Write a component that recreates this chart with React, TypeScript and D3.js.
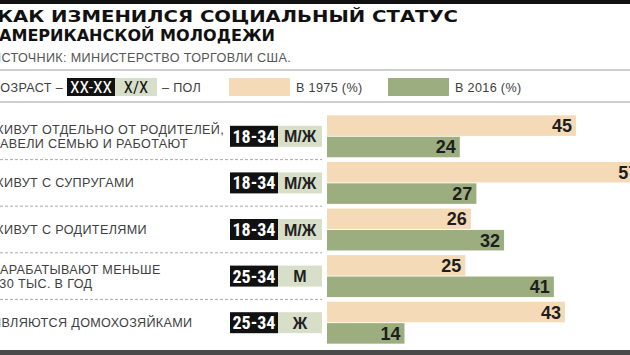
import React from "react";
import * as d3 from "d3";

const categories = [
  ["ЖИВУТ ОТДЕЛЬНО ОТ РОДИТЕЛЕЙ,", "ЗАВЕЛИ СЕМЬЮ И РАБОТАЮТ"],
  ["ЖИВУТ С СУПРУГАМИ"],
  ["ЖИВУТ С РОДИТЕЛЯМИ"],
  ["ЗАРАБАТЫВАЮТ МЕНЬШЕ", "$30 ТЫС. В ГОД"],
  ["ЯВЛЯЮТСЯ ДОМОХОЗЯЙКАМИ"],
];
const ages = ["18-34", "18-34", "18-34", "25-34", "25-34"];
const sexes = ["М/Ж", "М/Ж", "М/Ж", "М", "Ж"];
const values1975 = [45, 57, 26, 25, 43];
const values2016 = [24, 27, 32, 41, 14];
const seriesNames = ["В 1975 (%)", "В 2016 (%)"];

const W = 630;
const H = 355;
const BEIGE = "#f4dab7";
const GREEN = "#9cae7f";
const SAGE = "#d8dfc9";
const TEXT = "#404040";
const SANS = "'Liberation Sans', Arial, sans-serif";
const NARROW = "'Liberation Sans Narrow', 'Roboto Condensed', 'Liberation Sans', sans-serif";
const LBL = 12.6;
const LS = 0.35;

export default function App() {
  const idx = categories.map((_, i) => String(i));
  const y = d3.scaleBand().domain(idx).range([113, 346]).paddingInner(0.1).paddingOuter(0.05);
  const ySub = d3.scaleBand().domain(["1975", "2016"]).range([0, y.bandwidth()]).paddingInner(0.04);
  const x = d3.scaleLinear().domain([0, 45]).range([327, 576]);
  const series = [
    { key: "1975", values: values1975, color: BEIGE },
    { key: "2016", values: values2016, color: GREEN },
  ];
  const step = y.step();

  return (
    <svg width={W} height={H} style={{ position: "absolute", left: 0, top: 0, background: "#fff" }}>
      <rect x={0} y={0} width={W} height={4} fill="#111" />
      <text x={-3} y={22} fontFamily="'DejaVu Sans', sans-serif" fontWeight={700} fontSize={15.5} fill="#111" textLength={461} lengthAdjust="spacingAndGlyphs">
        КАК ИЗМЕНИЛСЯ СОЦИАЛЬНЫЙ СТАТУС
      </text>
      <text x={-1} y={41} fontFamily="'DejaVu Sans', sans-serif" fontWeight={700} fontSize={15.5} fill="#111" textLength={276} lengthAdjust="spacingAndGlyphs">
        АМЕРИКАНСКОЙ МОЛОДЕЖИ
      </text>
      <text x={-8} y={62} fontFamily={SANS} fontSize={LBL} letterSpacing={LS} fill="#555">
        ИСТОЧНИК: МИНИСТЕРСТВО ТОРГОВЛИ США.
      </text>
      <rect x={0} y={69} width={W} height={2} fill="#cfcfcf" />

      {/* legend */}
      <text x={-8} y={92} fontFamily={SANS} fontSize={LBL} letterSpacing={LS} fill={TEXT}>ВОЗРАСТ –</text>
      <rect x={67} y={78} width={48} height={18} fill="#111" />
      <text x={91} y={93} textAnchor="middle" fontFamily={NARROW} fontSize={16.5} fill="#fff" textLength={42} lengthAdjust="spacingAndGlyphs">XX-XX</text>
      <rect x={115} y={78} width={42} height={18} fill={SAGE} />
      <text x={136} y={93} textAnchor="middle" fontFamily={NARROW} fontSize={16.5} fill="#111">X/X</text>
      <text x={162} y={92} fontFamily={SANS} fontSize={LBL} letterSpacing={LS} fill={TEXT}>– ПОЛ</text>
      <rect x={229} y={78} width={61} height={18} fill={BEIGE} />
      <text x={296} y={92} fontFamily={SANS} fontSize={LBL} letterSpacing={LS} fill={TEXT}>{seriesNames[0]}</text>
      <rect x={388} y={78} width={61} height={18} fill={GREEN} />
      <text x={455} y={92} fontFamily={SANS} fontSize={LBL} letterSpacing={LS} fill={TEXT}>{seriesNames[1]}</text>
      <rect x={0} y={101} width={W} height={2} fill="#cfcfcf" />

      {idx.map((k, i) => {
        const top = y(k)!;
        const cy = top + y.bandwidth() / 2;
        const lines = categories[i];
        return (
          <g key={k}>
            {lines.length === 2 ? (
              <>
                <text x={-8} y={cy - 2} fontFamily={SANS} fontSize={LBL} letterSpacing={LS} fill={TEXT}>{lines[0]}</text>
                <text x={-8} y={cy + 11.5} fontFamily={SANS} fontSize={LBL} letterSpacing={LS} fill={TEXT}>{lines[1]}</text>
              </>
            ) : (
              <text x={-8} y={cy + 4.5} fontFamily={SANS} fontSize={LBL} letterSpacing={LS} fill={TEXT}>{lines[0]}</text>
            )}
            <rect x={230} y={cy - 10.5} width={48} height={21} fill="#111" />
            <text x={254} y={cy + 6.5} textAnchor="middle" fontFamily={NARROW} fontWeight={700} fontSize={18} fill="#fff" textLength={43} lengthAdjust="spacingAndGlyphs">{ages[i]}</text>
            <rect x={278} y={cy - 10.5} width={44} height={21} fill={SAGE} />
            <text x={300} y={cy + 6} textAnchor="middle" fontFamily={SANS} fontWeight={700} fontSize={16} fill="#222">{sexes[i]}</text>
            {series.map((s) => {
              const by = top + ySub(s.key)!;
              const bh = ySub.bandwidth();
              const v = s.values[i];
              return (
                <g key={s.key}>
                  <rect x={x(0)} y={by} width={x(v) - x(0)} height={bh} fill={s.color} />
                  <text x={x(v) - 4} y={by + bh / 2 + 6.5} textAnchor="end" fontFamily={SANS} fontWeight={700} fontSize={18} fill="#1e1e1e">{v}</text>
                </g>
              );
            })}
            {i < categories.length - 1 && (
              <line x1={0} x2={322} y1={top + y.bandwidth() + (step - y.bandwidth()) / 2} y2={top + y.bandwidth() + (step - y.bandwidth()) / 2} stroke="#aaa" strokeWidth={1} strokeDasharray="3,2" />
            )}
          </g>
        );
      })}
      <rect x={0} y={350} width={W} height={5} fill="#4a4a4a" />
    </svg>
  );
}
